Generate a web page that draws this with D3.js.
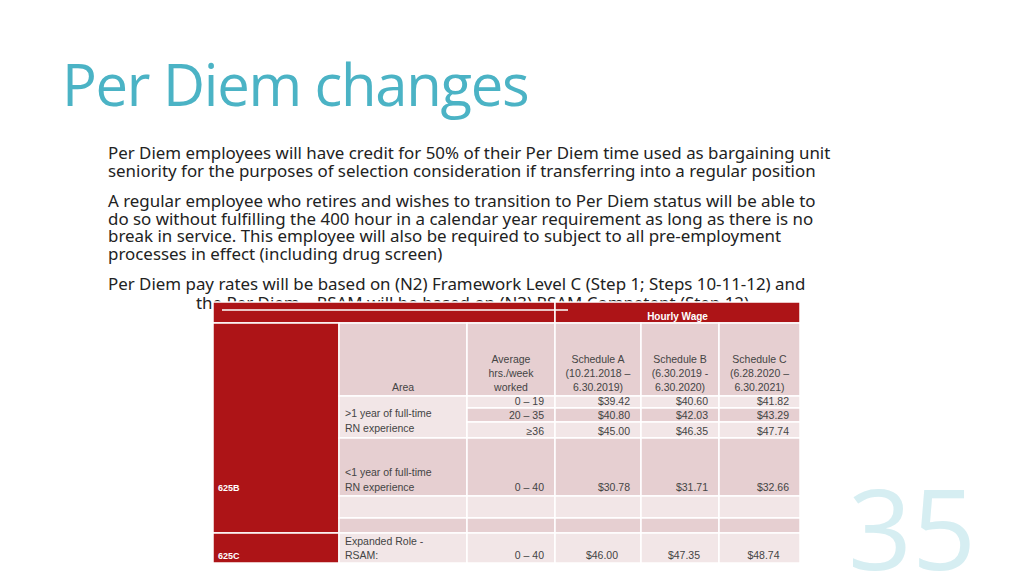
<!DOCTYPE html><html><head><meta charset="utf-8"><script src="https://cdn.jsdelivr.net/npm/d3@7"></script>
<style>body{margin:0;background:#fff}svg{display:block}</style></head><body><svg width="1024" height="575"></svg><script>
const paragraphs=[
 ["Per Diem employees will have credit for 50% of their Per Diem time used as bargaining unit","seniority for the purposes of selection consideration if transferring into a regular position"],
 ["A regular employee who retires and wishes to transition to Per Diem status will be able to","do so without fulfilling the 400 hour in a calendar year requirement as long as there is no","break in service. This employee will also be required to subject to all pre-employment","processes in effect (including drug screen)"],
 ["Per Diem pay rates will be based on (N2) Framework Level C (Step 1; Steps 10-11-12) and"]];
const hours=["0 – 19","20 – 35","≥36","0 – 40","","","0 – 40"];
const schedA=["$39.42","$40.80","$45.00","$30.78","","","$46.00"];
const schedB=["$40.60","$42.03","$46.35","$31.71","","","$47.35"];
const schedC=["$41.82","$43.29","$47.74","$32.66","","","$48.74"];
const headers=["Area","Average|hrs./week|worked","Schedule A|(10.21.2018 –|6.30.2019)","Schedule B|(6.30.2019 -|6.30.2020)","Schedule C|(6.28.2020 –|6.30.2021)"];
const svg=d3.select("svg");
svg.append("text").attr("x",62).attr("y",106).attr("font-family","Open Sans").attr("font-size",58).attr("fill","#4bb3c5").attr("letter-spacing",-1.3).text("Per Diem changes");
const ff="Noto Sans";
let ys=[159,207,290];
paragraphs.forEach((p,i)=>p.forEach((l,j)=>svg.append("text").attr("x",108).attr("y",ys[i]+j*17.5).attr("font-family",ff).attr("font-size",16.9).attr("fill","#222").text(l)));
svg.append("text").attr("x",196).attr("y",309).attr("font-family",ff).attr("font-size",16.9).attr("fill","#222").text("the Per Diem – RSAM will be based on (N3) RSAM Competent (Step 12)");
svg.append("text").attr("x",848).attr("y",570).attr("font-family","Open Sans").attr("font-size",112).attr("fill","#d6eef2").text("35");
const colX=d3.scaleOrdinal().domain(d3.range(7)).range([213,339,467,555,641,719,800]);
const rowY=d3.scaleOrdinal().domain(d3.range(10)).range([302,323,396,408,422,438,496,518,533,563]);
const red="#ad1417",dk="#e6cfd1",lt="#f2e6e7",g=svg.append("g").attr("font-family","Century Gothic, Liberation Sans, sans-serif");
function rect(c0,c1,r0,r1,f){g.append("rect").attr("x",colX(c0)).attr("y",rowY(r0)).attr("width",colX(c1)-colX(c0)).attr("height",rowY(r1)-rowY(r0)).attr("fill",f).attr("stroke","#fff").attr("stroke-width",1.5);}
rect(0,3,0,1,red);rect(3,6,0,1,red);
const shade=[dk,lt,dk,lt,dk,lt,dk,lt];
rect(0,1,1,8,red);rect(0,1,8,9,red);
rect(1,2,1,2,dk);rect(1,2,2,5,lt);
for(let r=1;r<9;r++){ if(r>=2&&r<=4){} else if(r!==1) rect(1,2,r,r+1,shade[r-1]); for(let c=2;c<6;c++) rect(c,c+1,r,r+1,shade[r-1]); }
g.append("line").attr("x1",222).attr("x2",568).attr("y1",310).attr("y2",310).attr("stroke","#fff").attr("stroke-width",1.5);
g.append("text").attr("x",(colX(3)+colX(6))/2).attr("y",320).attr("text-anchor","middle").attr("fill","#fff").attr("font-size",10).attr("font-weight","bold").text("Hourly Wage");
const tc="#444";
headers.forEach((h,i)=>{const ls=h.split("|");ls.forEach((l,j)=>g.append("text").attr("x",(colX(i+1)+colX(i+2))/2).attr("y",391-(ls.length-1-j)*14).attr("text-anchor","middle").attr("font-size",10.5).attr("fill",tc).text(l));});
[[">1 year of full-time",417],["RN experience",432],["<1 year of full-time",476],["RN experience",491],["Expanded Role -",545],["RSAM:",559]].forEach(d=>g.append("text").attr("x",345).attr("y",d[1]).attr("font-size",10.5).attr("fill",tc).text(d[0]));
const rowsIdx=[2,3,4,5,6,7,8];
const base=r=>r===5?491:(r===8?559:rowY(r+1)-3);
hours.forEach((h,i)=>{const r=rowsIdx[i];
 g.append("text").attr("x",544).attr("y",base(r)).attr("text-anchor","end").attr("font-size",10.5).attr("fill",tc).text(h);
 [schedA,schedB,schedC].forEach((s,k)=>g.append("text").attr("x",r===8?(colX(k+3)+colX(k+4))/2+4:colX(k+4)-11).attr("y",base(r)).attr("text-anchor",r===8?"middle":"end").attr("font-size",10.5).attr("fill",tc).text(s[i]));});
[["625B",491],["625C",559]].forEach(d=>g.append("text").attr("x",218).attr("y",d[1]).attr("font-size",9).attr("font-weight","bold").attr("fill","#fff").text(d[0]));
</script></body></html>
